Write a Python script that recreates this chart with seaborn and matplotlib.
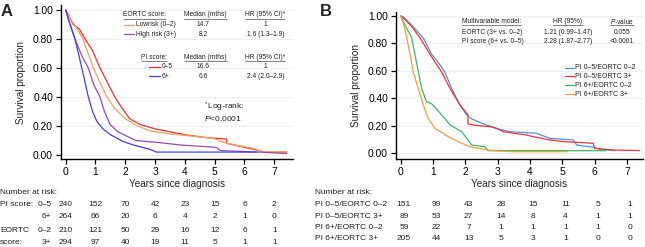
import numpy as np
import pandas as pd
import matplotlib
matplotlib.use("Agg")
import matplotlib.pyplot as plt
import matplotlib.transforms as mtransforms
from matplotlib.lines import Line2D
import seaborn as sns

# ---- data (years, survival proportion) ----
# Panel A
pi_lo_t = [0, 0.08, 0.25, 0.45, 0.65, 0.9, 1.15, 1.4, 1.65, 1.9, 2.15, 2.5, 3.0, 3.5, 4.0, 4.7, 5.4, 5.4, 5.85, 6.5, 6.65, 7.42]
pi_lo_s = [1.0, 0.97, 0.90, 0.87, 0.80, 0.72, 0.60, 0.50, 0.40, 0.32, 0.25, 0.21, 0.18, 0.16, 0.14, 0.12, 0.11, 0.08, 0.06, 0.03, 0.02, 0.02]

eortc_lo_t = [0, 0.15, 0.35, 0.58, 0.75, 0.93, 1.15, 1.38, 1.65, 2.0, 2.4, 2.85, 3.5, 4.0, 4.95, 5.4, 6.3, 6.63, 7.42]
eortc_lo_s = [1.0, 0.94, 0.88, 0.80, 0.70, 0.60, 0.50, 0.40, 0.32, 0.25, 0.20, 0.165, 0.145, 0.135, 0.115, 0.08, 0.046, 0.02, 0.02]

eortc_hi_t = [0, 0.1, 0.31, 0.55, 0.76, 0.95, 1.15, 1.3, 1.49, 1.75, 2.05, 2.35, 3.15, 3.85, 5.05, 5.2, 6.5, 7.42]
eortc_hi_s = [1.0, 0.93, 0.80, 0.68, 0.60, 0.48, 0.40, 0.30, 0.21, 0.16, 0.13, 0.10, 0.085, 0.069, 0.053, 0.03, 0.02, 0.01]

pi_hi_t = [0, 0.1, 0.31, 0.45, 0.54, 0.65, 0.76, 0.9, 1.05, 1.25, 1.5, 1.94, 2.27, 2.83, 3.05, 6.41]
pi_hi_s = [1.0, 0.93, 0.80, 0.68, 0.60, 0.50, 0.40, 0.30, 0.23, 0.18, 0.14, 0.092, 0.069, 0.039, 0.02, 0.02]

# Panel B
lo_lo_t = [0, 0.1, 0.35, 0.7, 0.96, 1.2, 1.37, 1.58, 1.84, 2.04, 2.2, 2.51, 2.97, 3.38, 4.2, 4.62, 5.34, 5.45, 5.97, 6.18, 6.63]
lo_lo_s = [1.0, 0.99, 0.93, 0.84, 0.72, 0.65, 0.59, 0.47, 0.35, 0.28, 0.25, 0.22, 0.18, 0.157, 0.146, 0.109, 0.097, 0.06, 0.044, 0.029, 0.019]

lo_hi_t = [0, 0.15, 0.35, 0.6, 0.91, 1.27, 1.53, 1.84, 2.08, 2.08, 2.3, 2.76, 2.97, 3.18, 3.9, 4.1, 4.62, 5.03, 5.96, 6.0, 6.57, 7.4]
lo_hi_s = [1.0, 0.97, 0.92, 0.84, 0.72, 0.59, 0.47, 0.35, 0.28, 0.215, 0.204, 0.194, 0.182, 0.157, 0.133, 0.121, 0.097, 0.085, 0.073, 0.036, 0.024, 0.02]

hi_lo_t = [0, 0.1, 0.34, 0.44, 0.55, 0.65, 0.8, 0.96, 1.27, 1.53, 1.89, 2.04, 2.2, 2.6, 2.7, 6.35]
hi_lo_s = [1.0, 0.95, 0.84, 0.72, 0.59, 0.47, 0.376, 0.36, 0.28, 0.206, 0.157, 0.109, 0.06, 0.048, 0.019, 0.019]

hi_hi_t = [0, 0.08, 0.19, 0.29, 0.39, 0.55, 0.7, 0.85, 1.06, 1.47, 1.89, 2.15, 2.67, 3.38, 5.15]
hi_hi_s = [1.0, 0.95, 0.84, 0.72, 0.59, 0.47, 0.35, 0.255, 0.182, 0.121, 0.073, 0.048, 0.024, 0.012, 0.012]

years = [0, 1, 2, 3, 4, 5, 6, 7]

# numbers at risk
risk_pi_lo = [240, 152, 70, 42, 23, 15, 6, 2]
risk_pi_hi = [264, 66, 20, 6, 4, 2, 1, 0]
risk_eortc_lo = [210, 121, 50, 29, 16, 12, 6, 1]
risk_eortc_hi = [294, 97, 40, 19, 11, 5, 1, 1]

risk_b_labels = ["PI 0\u20135/EORTC 0\u20132", "PI 0\u20135/EORTC 3+", "PI 6+/EORTC 0\u20132", "PI 6+/EORTC 3+"]
risk_b = [[151, 99, 43, 28, 15, 11, 5, 1],
          [89, 53, 27, 14, 8, 4, 1, 1],
          [59, 22, 7, 1, 1, 1, 1, 0],
          [205, 44, 13, 5, 3, 1, 0, 0]]

# colours
c_red = "#e3343a"
c_orange = "#f4a15c"
c_purple = "#9a4aa8"
c_blue = "#4040e0"
cb_blue = "#4f93cf"
cb_red = "#e8363c"
cb_green = "#3cb46e"
cb_orange = "#f0a137"

sns.set_theme(style="ticks")
plt.rcParams['font.family'] = ['Liberation Sans', 'DejaVu Sans']
plt.rcParams['mathtext.fontset'] = 'custom'
plt.rcParams['mathtext.rm'] = 'Liberation Sans'
plt.rcParams['mathtext.it'] = 'Liberation Sans:italic'

W, H = 645, 247
fig = plt.figure(figsize=(W / 100, H / 100), dpi=100)


def fx(x):
    return x / W


def fy(y):
    return 1 - y / H


def style_axes(ax, xlim, ylim):
    ax.set_xlim(*xlim)
    ax.set_ylim(*ylim)
    ax.set_xticks(years)
    ax.set_yticks([0, 0.2, 0.4, 0.6, 0.8, 1.0])
    ax.set_yticklabels([f"{v:.2f}" for v in [0, 0.2, 0.4, 0.6, 0.8, 1.0]])
    for v in [0, 0.2, 0.4, 0.6, 0.8, 1.0]:
        ax.axhline(v, color="#ececec", lw=0.6, zorder=0)
    sns.despine(ax=ax)
    for s in ["left", "bottom"]:
        ax.spines[s].set_linewidth(1.0)
        ax.spines[s].set_color("black")
    ax.tick_params(axis="both", labelsize=7.4, length=3.5, width=0.9, pad=2, colors="black")
    ax.set_xlabel("Years since diagnosis", fontsize=7.2, labelpad=2)
    ax.set_ylabel("Survival proportion", fontsize=7.2, labelpad=5)


def km(ax, t, s, color):
    sns.lineplot(x=t, y=s, color=color, lw=0.9, ax=ax, estimator=None, sort=False)


# ---- panel A ----
axA = fig.add_axes([fx(60.7), fy(159), (293 - 60.7) / W, (159 - 5) / H])
km(axA, pi_lo_t, pi_lo_s, c_red)
km(axA, eortc_lo_t, eortc_lo_s, c_orange)
km(axA, eortc_hi_t, eortc_hi_s, c_purple)
km(axA, pi_hi_t, pi_hi_s, c_blue)
style_axes(axA, (-0.168, 7.63), (-0.0276, 1.034))

# ---- panel B ----
axB = fig.add_axes([fx(395.7), fy(159), (643 - 395.7) / W, (159 - 12) / H])
km(axB, lo_lo_t, lo_lo_s, cb_blue)
km(axB, lo_hi_t, lo_hi_s, cb_red)
km(axB, hi_lo_t, hi_lo_s, cb_green)
km(axB, hi_hi_t, hi_hi_s, cb_orange)
style_axes(axB, (-0.155, 7.50), (-0.0415, 1.029))

fig.text(fx(1), fy(11), "A", fontsize=12, fontweight="bold", va="center", ha="left")
fig.text(fx(320), fy(11), "B", fontsize=12, fontweight="bold", va="center", ha="left")

renderer = fig.canvas.get_renderer()


def txt(x, y, s, size, ha="left", underline=False, **kw):
    t = fig.text(fx(x), fy(y), s, fontsize=size, ha=ha, va="center", color="#222222", **kw)
    if underline:
        bb = t.get_window_extent(renderer=renderer)
        yy = fy(y + 3.6)
        fig.add_artist(Line2D([bb.x0 / fig.bbox.width, bb.x1 / fig.bbox.width], [yy, yy],
                              lw=0.4, color="#222222"))
    return t


def sample(x0, x1, y, color):
    fig.add_artist(Line2D([fx(x0), fx(x1)], [fy(y), fy(y)], lw=0.9, color=color))


# panel A key table
ls = 4.8
txt(123, 15, "EORTC score:", ls, underline=True)
txt(184, 15, "Median (mths)", ls, underline=True)
txt(245, 15, "HR (95% CI)*", ls, underline=True)
sample(124, 134, 25, c_orange)
txt(136, 25, "Lowrisk (0\u20132)", ls)
txt(203, 25, "14.7", ls, ha="center")
txt(265, 25, "1", ls, ha="center")
sample(124, 134, 34, c_purple)
txt(136, 34, "High risk (3+)", ls)
txt(203, 34, "8.2", ls, ha="center")
txt(266, 34, "1.6 (1.3\u20131.9)", ls, ha="center")

txt(141, 57, "PI score:", ls, underline=True)
txt(184, 57, "Median (mths)", ls, underline=True)
txt(245, 57, "HR (95% CI)*", ls, underline=True)
sample(149, 160, 67, c_red)
txt(162, 67, "0\u20135", ls)
txt(203, 67, "16.6", ls, ha="center")
txt(265, 67, "1", ls, ha="center")
sample(149, 160, 76, c_blue)
txt(162, 76, "6+", ls)
txt(203, 76, "6.6", ls, ha="center")
txt(266, 76, "2.4 (2.0\u20132.9)", ls, ha="center")

txt(203, 107, "$^*$Log-rank:", 6.0)
txt(204, 118, "$P$<0.0001", 6.0)

# panel B key table
bs = 4.8
txt(462, 21.5, "Multivariable model:", bs, underline=True)
txt(568, 21.5, "HR (95%)", bs, ha="center", underline=True)
txt(622, 21.5, "$P$-value", bs, ha="center", underline=True)
txt(462, 32, "EORTC (3+ vs. 0\u20132)", bs)
txt(568, 32, "1.21 (0.99\u20131.47)", bs, ha="center")
txt(622, 32, "0.055", bs, ha="center")
txt(462, 41.5, "PI score (6+ vs. 0\u20135)", bs)
txt(568, 41.5, "2.28 (1.87\u20132.77)", bs, ha="center")
txt(622, 41.5, "<0.0001", bs, ha="center")

for yy, lab, col in zip([67.5, 76.5, 85, 94], risk_b_labels, [cb_blue, cb_red, cb_green, cb_orange]):
    sample(565, 573.5, yy, col)
    txt(575, yy, lab, 5.0)

# ---- number at risk tables ----
rs = 6.0
transA = mtransforms.blended_transform_factory(axA.transData, fig.transFigure)
transB = mtransforms.blended_transform_factory(axB.transData, fig.transFigure)

txt(0, 192, "Number at risk:", rs)
txt(0, 205, "PI score:", rs)
txt(51.5, 205, "0\u20135", rs, ha="right")
txt(51.5, 216, "6+", rs, ha="right")
txt(0, 230.5, "EORTC", rs)
txt(51.5, 230.5, "0\u20132", rs, ha="right")
txt(0, 242, "score:", rs)
txt(51.5, 242, "3+", rs, ha="right")
for yy, row in zip([205, 216, 230.5, 242], [risk_pi_lo, risk_pi_hi, risk_eortc_lo, risk_eortc_hi]):
    for yr, n in zip(years, row):
        axA.text(yr, fy(yy), str(n), transform=transA, fontsize=rs, ha="center", va="center",
                 color="#222222", clip_on=False)

txt(315, 192, "Number at risk:", rs)
for yy, lab, row in zip([205, 216, 227, 238], risk_b_labels, risk_b):
    txt(315, yy, lab, rs)
    for yr, n in zip(years, row):
        axB.text(yr + 0.1, fy(yy), str(n), transform=transB, fontsize=rs, ha="center", va="center",
                 color="#222222", clip_on=False)

fig.savefig("out.png", dpi=100)
